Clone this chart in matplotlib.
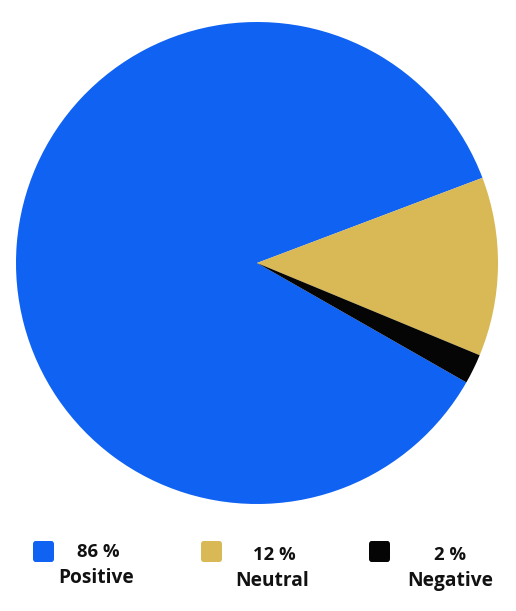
import matplotlib.pyplot as plt
from matplotlib.patches import FancyBboxPatch

labels = ['Positive', 'Neutral', 'Negative']
shares = [86, 12, 2]
colors = ['#0f62f2', '#d9b856', '#050505']

W, H = 516, 611
fig = plt.figure(figsize=(W / 100, H / 100), dpi=100)

# pie axes placed in pixel terms
cx, cy, r = 257, 263, 241
ax = fig.add_axes([(cx - r) / W, (H - cy - r) / H, 2 * r / W, 2 * r / H])
ax.pie(shares, colors=colors, startangle=-29.7, counterclock=False, radius=1,
       wedgeprops={'linewidth': 0})
ax.set_xlim(-1, 1)
ax.set_ylim(-1, 1)
ax.set_aspect('equal')
ax.axis('off')

# legend drawn by hand in pixel coordinates
box_x = [32, 200, 368]
pct_x = [98, 274, 450]
name_x = [96, 272, 450]
pct_y = [552, 555, 555]
name_y = [578, 581, 581]
for i in range(len(labels)):
    sq = FancyBboxPatch(((box_x[i] + 1) / W, (H - 562) / H), 21 / W, 21 / H,
                        boxstyle='round,pad=0,rounding_size=0.005',
                        transform=fig.transFigure, facecolor=colors[i],
                        edgecolor='none')
    fig.patches.append(sq)
    fig.text(pct_x[i] / W, 1 - pct_y[i] / H, f'{shares[i]} %', ha='center',
             va='center', fontsize=13.3, fontweight='bold', family='Open Sans',
             color='#111111')
    fig.text(name_x[i] / W, 1 - name_y[i] / H, labels[i], ha='center',
             va='center', fontsize=13.8, fontweight='bold', family='Open Sans',
             color='#111111')

fig.savefig('out.png', dpi=100)
